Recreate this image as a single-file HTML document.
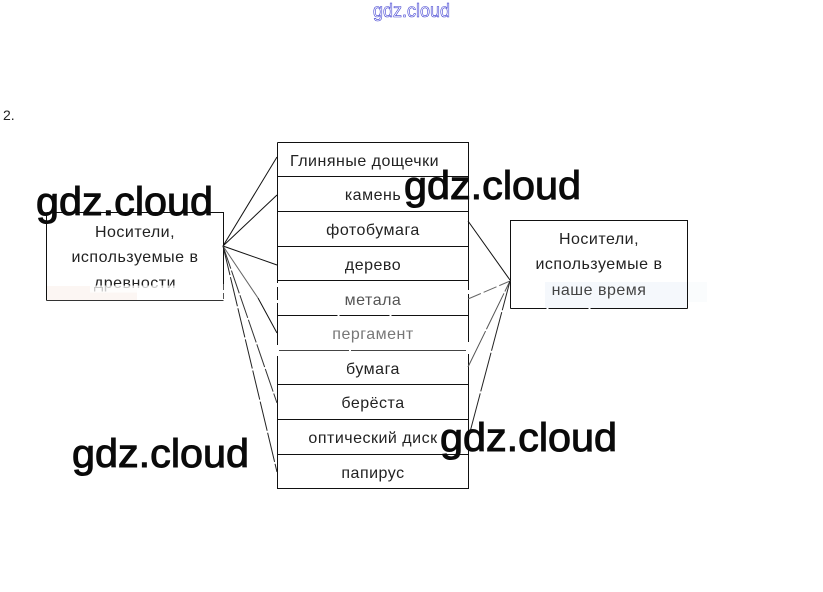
<!DOCTYPE html>
<html>
<head>
<meta charset="utf-8">
<style>
html,body{margin:0;padding:0;background:#fff;width:823px;height:592px;overflow:hidden}
svg{display:block}
text{font-family:"Liberation Sans",sans-serif}
.t{font-size:16px;fill:#222;text-anchor:middle;letter-spacing:.5px}
.w{font-size:40px;fill:#0a0a0a;stroke:#0a0a0a;stroke-width:1px}
</style>
</head>
<body>
<svg width="823" height="592" viewBox="0 0 823 592" xmlns="http://www.w3.org/2000/svg">
<rect width="823" height="592" fill="#fff"/>

<!-- faint tints -->
<rect x="47" y="286" width="90" height="14" fill="#fcf6f3"/>
<rect x="545" y="282" width="142" height="26" fill="#f5f8fc"/>
<rect x="687" y="282" width="20" height="20" fill="#fafcfd"/>

<!-- Left box -->
<g fill="none" stroke="#111" stroke-width="1">
<path d="M46.5 212.5H223.5V284"/>
<path d="M46.5 212.5V300.5"/>
<path d="M46.5 300.5H223.5" stroke="#333"/>
<path d="M223.5 284V300.5" stroke="#555" stroke-dasharray="6 3"/>
</g>

<!-- Middle box -->
<g fill="none" stroke="#111" stroke-width="1">
<path d="M277.5 142.5H468.5V488.5H277.5V142.5"/>
<path d="M277.5 176.5H468.5M277.5 211.5H468.5M277.5 246.5H468.5M277.5 280.5H468.5M277.5 419.5H468.5M277.5 454.5H468.5M277.5 384.5H468.5"/>
<path d="M277.5 315.5H468.5" stroke-dasharray="60 2 50 2 77 0"/>
<path d="M279 350.5H466" stroke="#444" stroke-dasharray="70 2 115 0"/>
</g>
<!-- wear on middle box sides -->
<g stroke="#fff" stroke-width="2">
<path d="M277.5 283V287M277.5 300V303M277.5 345V356M468.5 290V294M468.5 342V354"/>
</g>

<!-- Right box -->
<g fill="none" stroke="#111" stroke-width="1">
<path d="M510.5 280V220.5H687.5V308.5"/>
<path d="M510.5 280V308.5"/>
<path d="M510.5 308.5H687.5" stroke-dasharray="36 2 40 2 97 0"/>
</g>

<!-- Left connectors -->
<g fill="none" stroke="#111" stroke-width="1">
<path d="M223 246L277 157"/>
<path d="M223 246L277 195"/>
<path d="M223 246L277 265"/>
<path d="M223 246L258 298" stroke="#666"/>
<path d="M258 298L277 333"/>
<path d="M223 246L277 403" stroke="#333" stroke-dasharray="24 2"/>
<path d="M223 246L277 472" stroke="#222" stroke-dasharray="30 2"/>
</g>

<!-- Right connectors -->
<g fill="none" stroke="#111" stroke-width="1">
<path d="M468 221L510 280"/>
<path d="M468 299L510 281" stroke="#666" stroke-dasharray="14 3"/>
<path d="M468 367L510 281" stroke="#555" stroke-dasharray="40 2"/>
<path d="M470 432L510 281" stroke="#222" stroke-dasharray="40 2"/>
</g>

<!-- Labels -->
<text x="3" y="120" style="font-size:14px;fill:#222">2.</text>

<text class="t" x="135" y="237">Носители,</text>
<text class="t" x="135" y="262">используемые в</text>
<text class="t" x="135" y="288">древности</text>
<rect x="90" y="285.5" width="90" height="7" fill="#fff" opacity=".75"/>

<text class="t" x="599" y="244">Носители,</text>
<text class="t" x="599" y="269">используемые в</text>
<text class="t" x="599" y="295" style="fill:#444">наше время</text>

<text class="t" x="364.5" y="166">Глиняные дощечки</text>
<text class="t" x="373" y="200">камень</text>
<text class="t" x="373" y="235">фотобумага</text>
<text class="t" x="373" y="270">дерево</text>
<text class="t" x="373" y="305" style="fill:#555">метала</text>
<text class="t" x="373" y="339" style="fill:#777">пергамент</text>
<text class="t" x="373" y="374">бумага</text>
<text class="t" x="373" y="408">берёста</text>
<text class="t" x="373" y="443">оптический диск</text>
<text class="t" x="373" y="478">папирус</text>

<!-- Watermarks -->
<text class="w" x="36" y="215" textLength="177" lengthAdjust="spacingAndGlyphs">gdz.cloud</text>
<text class="w" x="404" y="199" textLength="177" lengthAdjust="spacingAndGlyphs">gdz.cloud</text>
<text class="w" x="72" y="467" textLength="177" lengthAdjust="spacingAndGlyphs">gdz.cloud</text>
<text class="w" x="440" y="451" textLength="177" lengthAdjust="spacingAndGlyphs">gdz.cloud</text>
<text x="373" y="17" textLength="77" lengthAdjust="spacingAndGlyphs" style="font-size:19px;fill:#fff;stroke:#3a3ad0;stroke-width:.6px">gdz.cloud</text>
</svg>
</body>
</html>
